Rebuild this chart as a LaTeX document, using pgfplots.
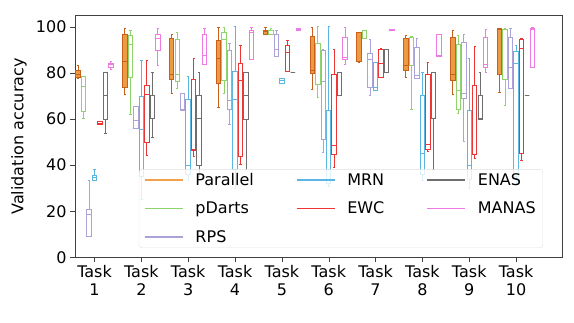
\documentclass[border=0pt]{standalone}
\usepackage{fontspec}
\setmainfont{DejaVu Sans}
\usepackage{pgfplots}
\pgfplotsset{compat=1.18}
\usepgfplotslibrary{statistics}

\definecolor{parE}{HTML}{C8601A}
\definecolor{parF}{HTML}{EE9A40}
\definecolor{parL}{HTML}{F5A04A}
\definecolor{pdC}{HTML}{8FD46A}
\definecolor{rpsC}{HTML}{ABA2DA}
\definecolor{mrnC}{HTML}{5AB6E2}
\definecolor{ewcC}{HTML}{EE3535}
\definecolor{enasC}{HTML}{6E6E6E}
\definecolor{manC}{HTML}{F07AE4}

\pgfplotsset{
  par/.style={draw=parE, fill=parF},
  pd/.style={draw=pdC},
  rps/.style={draw=rpsC},
  mrn/.style={draw=mrnC},
  ewc/.style={draw=ewcC},
  enas/.style={draw=enasC},
  man/.style={draw=manC},
}

% style, position, lower whisker, lower quartile, median, upper quartile, upper whisker
\newcommand{\bx}[7]{\addplot[#1, forget plot, line width=1pt,
  boxplot/draw direction=y,
  boxplot prepared={draw position=#2, lower whisker=#3, lower quartile=#4,
  median=#5, upper quartile=#6, upper whisker=#7, box extend=0.095, whisker extend=0.05}]
  coordinates {};}
% one macro per method: task, lw, lq, med, uq, uw
\newcommand{\Par}[6]{\bx{par}{#1-0.351}{#2}{#3}{#4}{#5}{#6}}
\newcommand{\Pd}[6]{\bx{pd}{#1-0.234}{#2}{#3}{#4}{#5}{#6}}
\newcommand{\Rps}[6]{\bx{rps}{#1-0.117}{#2}{#3}{#4}{#5}{#6}}
\newcommand{\Mrn}[6]{\bx{mrn}{#1}{#2}{#3}{#4}{#5}{#6}}
\newcommand{\Ewc}[6]{\bx{ewc}{#1+0.117}{#2}{#3}{#4}{#5}{#6}}
\newcommand{\Enas}[6]{\bx{enas}{#1+0.234}{#2}{#3}{#4}{#5}{#6}}
\newcommand{\Man}[6]{\bx{man}{#1+0.351}{#2}{#3}{#4}{#5}{#6}}
% legend line of a given colour
\newcommand{\lgd}[2]{\addlegendimage{legend image code/.code={\draw[draw=#1, line width=1.5pt] (0pt,0pt) -- (38pt,0pt);}}
  \addlegendentry{#2}}

\begin{document}
\begin{tikzpicture}
\begin{axis}[
  scale only axis,
  width=487pt, height=241.6pt,
  xmin=0.583, xmax=10.98,
  ymin=0, ymax=104.8,
  axis line style={black!75},
  tick pos=left,
  tick align=outside,
  major tick length=5pt,
  tick style={black!75},
  xtick={1,2,3,4,5,6,7,8,9,10},
  xticklabels={{Task\\1},{Task\\2},{Task\\3},{Task\\4},{Task\\5},{Task\\6},{Task\\7},{Task\\8},{Task\\9},{Task\\10}},
  xticklabel style={align=center, font=\fontsize{16}{18}\selectfont},
  ytick={0,20,40,60,80,100},
  yticklabel style={font=\fontsize{16}{18}\selectfont},
  /pgf/number format/assume math mode=true,
  ylabel={Validation accuracy},
  ylabel style={font=\fontsize{16}{18}\selectfont, at={(axis description cs:-0.115,0.5)}, anchor=center},
  legend columns=3,
  legend cell align=left,
  legend style={at={(0.131,0.0385)}, anchor=south west,
    draw=black!12, rounded corners=3pt, fill=white, fill opacity=0.8,
    text opacity=1, draw opacity=1,
    font=\fontsize{16}{18}\selectfont,
    inner xsep=5pt, inner ysep=2pt, row sep=11pt,
    /tikz/every odd column/.append style={column sep=10pt},
    /tikz/every even column/.append style={column sep=40pt}},
]
% Task 1
\Par{1}{77.5}{78}{79.5}{81}{83}
\Pd{1}{60.3}{63.2}{73.9}{78.3}{78.3}
\Rps{1}{9.2}{9.2}{18.6}{20.8}{33.5}
\Mrn{1}{33.3}{33.3}{34.4}{35.6}{38.3}
\Ewc{1}{57.4}{57.4}{58.2}{59.0}{59.0}
\Enas{1}{53.8}{59.9}{70.2}{80.2}{80.2}
\Man{1}{81.6}{82.5}{83.5}{84.2}{84.9}
% Task 2
\Par{2}{70.8}{73.8}{84.9}{96.8}{99.1}
\Pd{2}{62.1}{78.1}{92.5}{96.2}{98.3}
\Rps{2}{56.0}{56.0}{59.2}{65.4}{65.4}
\Mrn{2}{25}{35}{55.3}{69.6}{85.2}
\Ewc{2}{44.0}{49.6}{70.8}{74.4}{85.4}
\Enas{2}{52}{60}{60}{70.1}{80.2}
\Man{2}{83.1}{89.7}{94.8}{96.8}{99.4}
% Task 3
\Par{3}{70.9}{77.3}{79.4}{95.1}{96.5}
\Pd{3}{73.1}{76.3}{79.1}{94.6}{97.7}
\Rps{3}{63.5}{63.5}{64}{71.2}{71.2}
\Mrn{3}{33.5}{36}{40}{68.6}{78.3}
\Ewc{3}{43.7}{46.3}{46.8}{77.2}{86.4}
\Enas{3}{35}{40}{60}{70.1}{80.2}
\Man{3}{83.5}{83.8}{87.5}{96.8}{99.1}
% Task 4
\Par{4}{65.0}{75.2}{86.4}{94.1}{99.8}
\Pd{4}{71}{76.5}{94.3}{97.5}{99.8}
\Rps{4}{57.4}{64.2}{68.1}{89.6}{92.9}
\Mrn{4}{30}{38}{68.3}{80.7}{99.9}
\Ewc{4}{40.1}{43.6}{76.7}{84.0}{92.0}
\Enas{4}{38}{59.9}{70.1}{80.2}{80.2}
\Man{4}{86.0}{86.0}{97.7}{98.3}{99.8}
% Task 5
\Par{5}{96.5}{96.5}{98}{98.3}{99.8}
\Pd{5}{96.8}{96.8}{96.8}{98.3}{99.1}
\Rps{5}{87.1}{87.1}{90.3}{96.5}{98.4}
\Mrn{5}{75.5}{75.5}{76.7}{77.7}{77.7}
\Ewc{5}{80.6}{80.6}{89.0}{91.7}{94.1}
\Enas{5}{80.2}{80.2}{80.2}{80.2}{80.2}
\Man{5}{98.4}{98.4}{98.7}{99.1}{99.1}
% Task 6
\Par{6}{72.6}{79.9}{81.0}{95.8}{99.8}
\Pd{6}{69.2}{74.8}{75.1}{92.9}{99.9}
\Rps{6}{45.5}{51.2}{76.3}{89.5}{90.3}
\Mrn{6}{30.9}{32}{38}{63.8}{99.9}
\Ewc{6}{39}{44.8}{48.7}{79.2}{90.2}
\Enas{6}{70}{70}{70}{80.2}{80.2}
\Man{6}{83.8}{86.0}{86.8}{95.5}{99.8}
% Task 7
\Par{7}{84.6}{84.9}{84.9}{97.5}{97.7}
\Pd{7}{95}{95}{95}{98.4}{98.4}
\Rps{7}{70.0}{73.6}{85.9}{88.6}{94.3}
\Mrn{7}{72.2}{72.2}{73.6}{84.5}{84.5}
\Ewc{7}{78.1}{78.1}{84.2}{90.3}{90.7}
\Enas{7}{80.2}{80.2}{90.1}{90.1}{90.1}
\Man{7}{98.3}{98.3}{98.7}{99.0}{99.0}
% Task 8
\Par{8}{78.1}{81.0}{83.0}{95.0}{96.4}
\Pd{8}{64.2}{83.1}{83.1}{95.2}{95.8}
\Rps{8}{77.5}{77.7}{79}{91.2}{94.8}
\Mrn{8}{33.5}{36}{45}{70.2}{80.2}
\Ewc{8}{45.9}{46.9}{48.8}{79.4}{84.5}
\Enas{8}{38}{60}{60}{80.2}{80.2}
\Man{8}{87.1}{87.1}{87.4}{96.8}{96.8}
% Task 9
\Par{9}{70.5}{76.7}{79.4}{95.4}{98.4}
\Pd{9}{62.2}{64.2}{72.2}{92.5}{96.2}
\Rps{9}{50.2}{69.0}{71.2}{93.2}{96.8}
\Mrn{9}{30}{33.6}{40}{63.7}{86.4}
\Ewc{9}{43.0}{44.7}{44.7}{74.5}{91.5}
\Enas{9}{59.9}{59.9}{60}{70.2}{80.2}
\Man{9}{80.3}{82.3}{83.5}{95.4}{98.7}
% Task 10
\Par{10}{71.6}{79.4}{98.7}{99.1}{99.4}
\Pd{10}{65.7}{77.3}{98.7}{98.7}{99.1}
\Rps{10}{73.4}{73.4}{82.5}{95.5}{99.4}
\Mrn{10}{31.4}{35}{84.2}{89.3}{91.7}
\Ewc{10}{42.2}{45.1}{90.7}{94.3}{94.8}
\Enas{10}{70.2}{70.2}{70.2}{70.2}{70.2}
\Man{10}{82.5}{82.5}{98.7}{99.1}{99.8}

% legend, row by row (matplotlib fills it column by column)
\lgd{parL}{Parallel}
\lgd{mrnC}{MRN}
\lgd{enasC}{ENAS}
\lgd{pdC}{pDarts}
\lgd{ewcC}{EWC}
\lgd{manC}{MANAS}
\lgd{rpsC}{RPS}
\end{axis}
\path (current axis.south west) ++(-75pt,-65.7pt) rectangle (current axis.north east);
\path (current axis.north east) ++(12pt,15.7pt);
\end{tikzpicture}
\end{document}
